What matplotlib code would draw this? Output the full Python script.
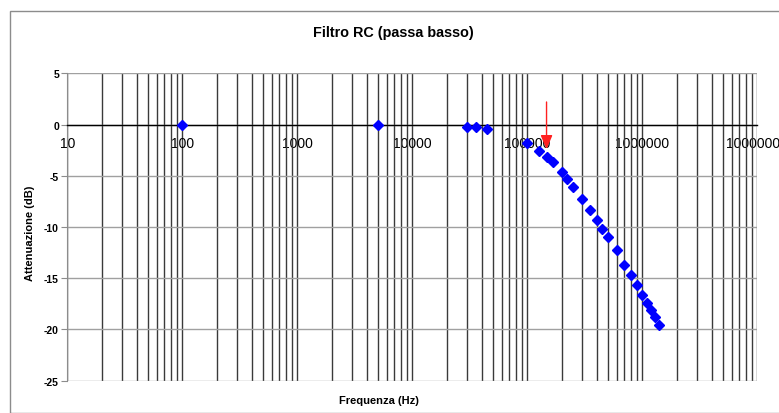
import matplotlib
matplotlib.use("Agg")
import matplotlib.pyplot as plt
from matplotlib.patches import Rectangle
from matplotlib.ticker import LogLocator, FixedLocator, NullFormatter

# ---- data ----
freq_hz = [100, 5000, 30000, 36000, 45000, 100000, 127000, 147000, 168000,
           200000, 220000, 250000, 300000, 350000, 400000, 450000, 500000,
           600000, 700000, 800000, 900000, 1000000, 1100000, 1200000,
           1300000, 1400000]
atten_db = [0.0, 0.0, -0.2, -0.2, -0.4, -1.8, -2.6, -3.2, -3.7,
            -4.6, -5.3, -6.1, -7.3, -8.3, -9.3, -10.2, -11.0,
            -12.2, -13.7, -14.7, -15.7, -16.6, -17.4, -18.1,
            -18.8, -19.6]
x_ticks = [10, 100, 1000, 10000, 100000, 1000000, 10000000]
x_tick_labels = ["10", "100", "1000", "10000", "100000", "1000000", "10000000"]
y_ticks = [5, 0, -5, -10, -15, -20, -25]
cutoff_freq = 147000
arrow_top_db = 2.2
arrow_tip_db = -2.4

title = "Filtro RC (passa basso)"
xlabel = "Frequenza (Hz)"
ylabel = "Attenuazione (dB)"

plt.rcParams['font.family'] = ['Liberation Sans', 'DejaVu Sans']

W, H = 779, 414
fig = plt.figure(figsize=(W / 100, H / 100), dpi=100)

# outer chart frame
fig.patches.append(Rectangle((9.5 / W, 0), 1.2, 1 - 11.7 / H, transform=fig.transFigure,
                             fill=False, edgecolor='#8c8c8c', lw=1.0))

left, right = 67.3 / W, 757.3 / W
top, bottom = 1 - 74.3 / H, 1 - 381.7 / H
ax = fig.add_axes([left, bottom, right - left, top - bottom])

ax.set_xscale('log')
ax.set_xlim(10, 1e7)
ax.set_ylim(-25, 5)

ax.xaxis.set_major_locator(FixedLocator(x_ticks))
ax.xaxis.set_minor_locator(LogLocator(base=10, subs=range(2, 10), numticks=100))
ax.xaxis.set_minor_formatter(NullFormatter())
ax.set_xticks(x_ticks)
ax.set_xticklabels(x_tick_labels, fontsize=7.5, fontweight='bold')
ax.set_yticks(y_ticks)
ax.set_yticklabels([str(v) for v in y_ticks], fontsize=7.5, fontweight='bold')

ax.grid(which='both', axis='x', color='#3a3a3a', lw=1.0)
ax.grid(which='major', axis='y', color='#a0a0a0', lw=1.0)
ax.set_axisbelow(True)

for s in ['top', 'right']:
    ax.spines[s].set_visible(False)
ax.spines['left'].set_color('#8c8c8c')
ax.spines['bottom'].set_position(('data', 0))
ax.spines['bottom'].set_color('black')
ax.spines['bottom'].set_linewidth(1.0)

ax.tick_params(axis='x', which='both', length=0, pad=8)
ax.tick_params(axis='y', which='major', length=4, color='#8c8c8c', pad=2)

ax.plot(freq_hz, atten_db, linestyle='none', marker='D', markersize=5.5,
        color='#0000ff', markeredgecolor='#0000ff', zorder=3, clip_on=False)

arr = ax.annotate('', xy=(cutoff_freq, arrow_tip_db), xytext=(cutoff_freq, arrow_top_db),
                  arrowprops=dict(arrowstyle='-|>,head_length=0.7,head_width=0.3',
                                  color='#ff2020', lw=1.0,
                                  mutation_scale=12, shrinkA=0, shrinkB=0))
arr.set_zorder(10)

fig.text(393 / W, 1 - 33.3 / H, title, ha='center', va='center',
         fontsize=10.4, fontweight='bold')
fig.text(379 / W, 1 - 401 / H, xlabel, ha='center', va='center',
         fontsize=8, fontweight='bold')
fig.text(30 / W, 1 - 233 / H, ylabel, ha='center', va='center',
         fontsize=8, fontweight='bold', rotation=90)

fig.savefig('out.png', dpi=100)
